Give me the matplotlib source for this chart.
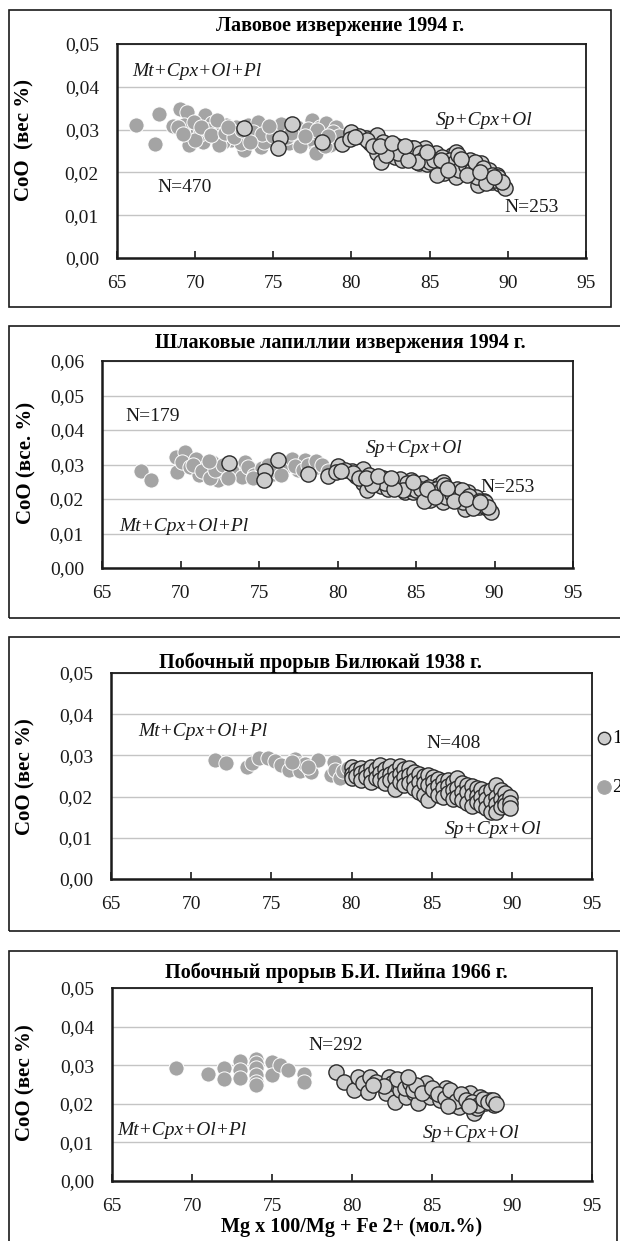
import matplotlib
matplotlib.use("Agg")
import matplotlib.pyplot as plt
from matplotlib.patches import Rectangle
from matplotlib.ticker import MultipleLocator, FuncFormatter

plt.rcParams['font.family'] = ['Liberation Serif', 'DejaVu Serif']

# ---------------- DATA ----------------
# Panel 1 & 2 shared: Sp+Cpx+Ol olivines, 1994 (N=253)
ol1994_x = [73.1, 76.2, 75.4, 75.3, 78.1,
            79.4, 80.0, 79.9, 80.9, 81.2, 81.6, 81.6, 81.9, 82.3, 82.6, 82.8, 83.1, 83.2,
            83.5, 83.9, 84.1, 84.3, 84.7, 84.8, 85.1, 85.4, 85.6, 85.9, 86.1, 86.4, 86.5,
            86.7, 86.7, 87.1, 87.5, 87.6, 87.9, 88.1, 88.3, 88.5, 88.8, 89.0, 89.3, 89.5, 89.8,
            80.5, 81.0, 81.4, 82.0, 82.4, 82.9, 83.3, 83.7, 84.0, 84.4, 84.6, 85.0, 85.3,
            85.8, 86.0, 86.3, 86.6, 86.9, 87.3, 87.7, 87.9, 88.0, 88.4, 88.7, 89.0, 89.2,
            89.4, 89.6, 85.5, 86.8, 87.4, 88.6, 84.2, 83.0, 82.2, 83.6,
            80.2, 81.8, 82.6, 83.4, 84.8, 85.7, 86.2, 87.0, 88.2, 89.1]
ol1994_y = [0.0303, 0.0312, 0.0280, 0.0256, 0.0272,
            0.0266, 0.0295, 0.0277, 0.0280, 0.0268, 0.0288, 0.0245, 0.0225, 0.0264, 0.0252, 0.0237, 0.0259, 0.0229,
            0.0248, 0.0256, 0.0237, 0.0221, 0.0256, 0.0220, 0.0237, 0.0245, 0.0213, 0.0198, 0.0229, 0.0241, 0.0209,
            0.0190, 0.0248, 0.0221, 0.0198, 0.0229, 0.0213, 0.0170, 0.0221, 0.0198, 0.0205, 0.0178, 0.0194, 0.0174, 0.0163,
            0.0285, 0.0275, 0.0262, 0.0270, 0.0248, 0.0262, 0.0250, 0.0240, 0.0258, 0.0245, 0.0232, 0.0225, 0.0230,
            0.0235, 0.0218, 0.0230, 0.0225, 0.0205, 0.0215, 0.0205, 0.0225, 0.0190, 0.0210, 0.0185, 0.0195, 0.0182,
            0.0190, 0.0178, 0.0195, 0.0240, 0.0195, 0.0175, 0.0225, 0.0245, 0.0240, 0.0228,
            0.0282, 0.0262, 0.0268, 0.0262, 0.0248, 0.0228, 0.0205, 0.0232, 0.0200, 0.0190]

# Panel 1: Mt+Cpx+Ol+Pl, lava 1994 (N=470)
lava_mt_x = [66.2, 67.4, 67.7, 68.6, 69.0, 69.5, 69.3, 69.6, 70.1, 70.6, 70.5, 71.1, 71.2, 71.6,
             72.0, 72.3, 72.6, 73.1, 73.2, 73.6, 74.1, 74.2, 74.6, 74.8, 75.1, 75.6, 76.2, 76.6,
             77.1, 77.5, 77.6, 77.7, 78.0, 78.4, 78.6, 79.0,
             68.9, 69.9, 70.3, 70.8, 71.4, 71.8, 72.2, 72.8, 73.4, 73.8, 74.4, 74.9, 75.3, 75.8,
             76.0, 76.4, 76.9, 77.3, 77.9, 78.2, 78.8, 79.2, 70.0, 71.5, 72.9, 74.0, 75.5, 76.7,
             78.3, 69.2,
             70.4, 71.0, 71.9, 72.5, 73.0, 73.7, 74.3, 75.0, 75.9, 76.5, 77.2, 77.8, 78.5, 72.1,
             73.5, 74.7, 76.1, 77.0]
lava_mt_y = [0.0311, 0.0266, 0.0336, 0.0309, 0.0348, 0.0342, 0.0310, 0.0264, 0.0295, 0.0334, 0.0272, 0.0315, 0.0284, 0.0299,
             0.0310, 0.0276, 0.0307, 0.0252, 0.0291, 0.0276, 0.0303, 0.0260, 0.0291, 0.0276, 0.0303, 0.0276, 0.0295, 0.0276,
             0.0291, 0.0323, 0.0268, 0.0245, 0.0307, 0.0315, 0.0264, 0.0307,
             0.0305, 0.0318, 0.0290, 0.0300, 0.0322, 0.0270, 0.0290, 0.0295, 0.0310, 0.0285, 0.0272, 0.0300, 0.0290, 0.0298,
             0.0268, 0.0285, 0.0300, 0.0278, 0.0290, 0.0275, 0.0295, 0.0285, 0.0275, 0.0265, 0.0268, 0.0318, 0.0312, 0.0262,
             0.0262, 0.0290,
             0.0305, 0.0288, 0.0292, 0.0282, 0.0300, 0.0295, 0.0290, 0.0285, 0.0282, 0.0305, 0.0302, 0.0300, 0.0285, 0.0305,
             0.0272, 0.0308, 0.0292, 0.0285]

# Panel 2: Mt+Cpx+Ol+Pl, lapilli 1994 (N=179)
lap_mt_x = [67.5, 68.1, 69.7, 69.8, 70.3, 70.1, 70.6, 71.0, 71.2, 71.6, 72.0, 72.4, 72.5, 72.9,
            73.6, 74.1, 74.4, 74.9, 75.9, 76.6, 77.1, 77.5, 77.9, 78.4, 78.7, 79.2,
            70.8, 71.4, 71.9, 72.2, 72.7, 73.3, 73.9, 74.3, 74.7, 75.2, 75.6, 76.1, 76.4, 77.3,
            77.8, 78.1, 78.6, 79.0, 79.4, 71.8, 73.0, 74.6]
lap_mt_y = [0.0281, 0.0256, 0.0322, 0.0278, 0.0336, 0.0307, 0.0293, 0.0317, 0.0269, 0.0293, 0.0307, 0.0254, 0.0293, 0.0273,
            0.0288, 0.0307, 0.0264, 0.0283, 0.0273, 0.0293, 0.0317, 0.0283, 0.0312, 0.0302, 0.0293, 0.0288,
            0.0300, 0.0280, 0.0262, 0.0285, 0.0300, 0.0280, 0.0265, 0.0292, 0.0270, 0.0290, 0.0300, 0.0280, 0.0270, 0.0295,
            0.0285, 0.0300, 0.0310, 0.0298, 0.0280, 0.0310, 0.0262, 0.0260]

# Panel 3: Bilyukai 1938
bil_mt_x = [71.5, 72.2, 73.5, 73.8, 74.2, 74.8, 75.2, 75.6, 76.1, 76.5, 76.7, 76.8, 77.1, 77.5,
            77.9, 78.7, 78.9, 79.0, 79.3, 79.5, 79.8, 76.3, 77.3]
bil_mt_y = [0.0290, 0.0282, 0.0271, 0.0282, 0.0294, 0.0294, 0.0286, 0.0276, 0.0265, 0.0291, 0.0278, 0.0261, 0.0280, 0.0259,
            0.0288, 0.0253, 0.0283, 0.0265, 0.0245, 0.0261, 0.0269, 0.0283, 0.0272]
bil_ol_x = [80.0, 80.0, 80.0, 80.3, 80.3, 80.6, 80.6, 80.6, 80.9, 80.9, 81.2, 81.2, 81.2, 81.5, 81.5,
            81.8, 81.8, 81.8, 82.1, 82.1, 82.1, 82.4, 82.4, 82.4, 82.7, 82.7, 82.7, 83.0, 83.0, 83.0,
            83.3, 83.3, 83.3, 83.6, 83.6, 83.6, 83.9, 83.9, 83.9, 84.2, 84.2, 84.2, 84.5, 84.5, 84.5,
            84.8, 84.8, 84.8, 85.1, 85.1, 85.1, 85.4, 85.4, 85.4, 85.7, 85.7, 85.7, 86.0, 86.0, 86.0,
            86.3, 86.3, 86.3, 86.6, 86.6, 86.6, 86.9, 86.9, 86.9, 87.2, 87.2, 87.2, 87.5, 87.5, 87.5,
            87.8, 87.8, 87.8, 88.1, 88.1, 88.1, 88.4, 88.4, 88.4, 88.7, 88.7, 88.7, 89.0, 89.0, 89.0, 89.0,
            89.3, 89.3, 89.3, 89.6, 89.6, 89.6, 89.9, 89.9, 89.9]
bil_ol_y = [0.0273, 0.0255, 0.0245, 0.0265, 0.0250, 0.0270, 0.0258, 0.0240, 0.0262, 0.0247, 0.0272, 0.0255, 0.0236, 0.0266, 0.0246,
            0.0277, 0.0258, 0.0240, 0.0268, 0.0250, 0.0232, 0.0274, 0.0256, 0.0240, 0.0262, 0.0244, 0.0218, 0.0275, 0.0255, 0.0235,
            0.0266, 0.0248, 0.0228, 0.0270, 0.0252, 0.0232, 0.0260, 0.0240, 0.0222, 0.0255, 0.0236, 0.0212, 0.0250, 0.0232, 0.0205,
            0.0252, 0.0228, 0.0192, 0.0248, 0.0235, 0.0215, 0.0242, 0.0225, 0.0205, 0.0238, 0.0220, 0.0200, 0.0240, 0.0225, 0.0208,
            0.0235, 0.0215, 0.0195, 0.0244, 0.0222, 0.0200, 0.0232, 0.0212, 0.0192, 0.0228, 0.0210, 0.0185, 0.0225, 0.0205, 0.0178,
            0.0220, 0.0202, 0.0186, 0.0218, 0.0198, 0.0180, 0.0212, 0.0195, 0.0172, 0.0215, 0.0190, 0.0162, 0.0228, 0.0200, 0.0182, 0.0163,
            0.0215, 0.0195, 0.0175, 0.0208, 0.0190, 0.0180, 0.0200, 0.0185, 0.0172]

# Panel 4: B.I. Piip 1966
piip_mt_x = [69.0, 71.0, 72.0, 72.0, 73.0, 73.0, 73.0, 74.0, 74.0, 74.0, 74.0, 74.0, 74.0,
             75.0, 75.0, 75.5, 76.0, 77.0, 77.0]
piip_mt_y = [0.0292, 0.0277, 0.0292, 0.0263, 0.0311, 0.0288, 0.0266, 0.0315, 0.0305, 0.0294, 0.0275, 0.0257, 0.0249,
             0.0309, 0.0275, 0.0301, 0.0288, 0.0277, 0.0257]
piip_ol_x = [79.0, 79.5, 80.1, 80.4, 80.7, 81.0, 81.1, 81.5, 82.1, 82.3, 82.5, 82.7, 83.0, 83.2, 83.4,
             83.7, 83.9, 84.1, 84.3, 84.6, 84.9, 85.2, 85.5, 85.9, 86.2, 86.4, 86.7, 86.9, 87.2, 87.4,
             87.6, 87.8, 88.0, 88.3, 88.6, 88.9,
             82.8, 83.3, 83.6, 83.8, 84.0, 83.5, 84.4, 85.0, 85.4, 85.8, 86.1, 86.5, 86.8, 87.1, 87.5,
             87.9, 88.2, 88.5, 88.8, 89.0, 87.3, 86.0, 82.0, 81.3]
piip_ol_y = [0.0283, 0.0256, 0.0236, 0.0270, 0.0253, 0.0231, 0.0270, 0.0257, 0.0227, 0.0270, 0.0253, 0.0205, 0.0236, 0.0262, 0.0218,
             0.0249, 0.0227, 0.0201, 0.0240, 0.0253, 0.0218, 0.0231, 0.0210, 0.0240, 0.0197, 0.0223, 0.0192, 0.0218, 0.0201, 0.0227,
             0.0175, 0.0188, 0.0218, 0.0201, 0.0210, 0.0197,
             0.0265, 0.0240, 0.0255, 0.0235, 0.0250, 0.0270, 0.0228, 0.0240, 0.0225, 0.0215, 0.0235, 0.0208, 0.0225, 0.0210, 0.0205,
             0.0198, 0.0212, 0.0205, 0.0210, 0.0200, 0.0195, 0.0195, 0.0245, 0.0250]

titles = ["Лавовое извержение 1994 г.",
          "Шлаковые лапиллии извержения 1994 г.",
          "Побочный прорыв Билюкай 1938 г.",
          "Побочный прорыв Б.И. Пийпа 1966 г."]
ylabels = ["CoO  (вес %)", "CoO (все. %)", "CoO (вес %)", "CoO (вес %)"]
xlabel = "Mg x 100/Mg + Fe 2+ (мол.%)"
ymax = [0.05, 0.06, 0.05, 0.05]
legend_labels = ["1", "2"]

# ---------------- LAYOUT ----------------
W, H = 620, 1241
fig = plt.figure(figsize=(W / 100, H / 100), dpi=100)

def fx(px):
    return px / W

def fy(py):
    return 1 - py / H

# axes boxes in pixels: left, right, top, bottom
boxes = [(117, 586, 44, 258), (102, 573, 361, 568), (111, 592, 673, 879), (112, 592, 988, 1181)]
frames = [(9, 611, 10, 307), (9, 630, 326, 618), (9, 630, 637, 931), (9, 617, 951, 1250)]
title_pos = [(340, 26), (340, 343), (320, 663), (336, 973)]
ylab_pos = [(-0.175, 0.55), (-0.14, 0.507), (-0.158, 0.495), (-0.16, 0.508)]

G1_FACE, G1_EDGE = '#cdcdcd', '#2b2b2b'
G2_FACE = '#a4a4a4'
MS = 120

for (x0, x1, y0, y1) in frames:
    fig.add_artist(Rectangle((fx(x0), fy(y1)), fx(x1) - fx(x0), fy(y0) - fy(y1),
                             transform=fig.transFigure, fill=False, edgecolor='#1a1a1a',
                             linewidth=1.2, clip_on=False))

axes = []
for i, (l, r, t, b) in enumerate(boxes):
    ax = fig.add_axes([fx(l), fy(b), fx(r) - fx(l), fy(t) - fy(b)])
    ax.set_xlim(65, 95)
    ax.set_ylim(0, ymax[i])
    ax.xaxis.set_major_locator(MultipleLocator(5))
    ax.yaxis.set_major_locator(MultipleLocator(0.01))
    ax.yaxis.set_major_formatter(FuncFormatter(lambda v, p: f"{v:.2f}".replace('.', ',')))
    ax.tick_params(axis='x', direction='in', length=5, width=1.2, labelsize=14, pad=12, colors='#1a1a1a')
    ax.tick_params(axis='y', length=0, labelsize=14, pad=13, colors='#1a1a1a')
    ax.grid(axis='y', color='#c4c4c4', linewidth=1.0)
    ax.set_axisbelow(True)
    for s in ax.spines.values():
        s.set_color('#1a1a1a')
        s.set_linewidth(1.3)
    ax.spines['left'].set_linewidth(1.8)
    ax.spines['bottom'].set_linewidth(1.8)
    ax.set_ylabel(ylabels[i], fontsize=15, fontweight='bold')
    ax.yaxis.set_label_coords(*ylab_pos[i])
    fig.text(fx(title_pos[i][0]), fy(title_pos[i][1]), titles[i], ha='center', va='center',
             fontsize=14.5, fontweight='bold')
    axes.append(ax)

def draw(ax, ol_x, ol_y, mt_x, mt_y):
    h2 = ax.scatter(mt_x, mt_y, s=MS, facecolor=G2_FACE, edgecolor='white', linewidth=0.7, zorder=3)
    h1 = ax.scatter(ol_x, ol_y, s=MS, facecolor=G1_FACE, edgecolor=G1_EDGE, linewidth=1.0, zorder=4)
    return h1, h2

txt = dict(fontsize=14, va='center', ha='left', color='#1a1a1a')
itx = dict(fontsize=14, va='center', ha='left', style='italic', color='#1a1a1a')

# Panel 1
ax = axes[0]
draw(ax, ol1994_x, ol1994_y, lava_mt_x, lava_mt_y)
ax.text(66.0, 0.0435, "Mt+Cpx+Ol+Pl", **itx)
ax.text(85.4, 0.0322, "Sp+Cpx+Ol", **itx)
ax.text(67.6, 0.0164, "N=470", **txt)
ax.text(89.8, 0.0119, "N=253", **txt)

# Panel 2
ax = axes[1]
draw(ax, ol1994_x, ol1994_y, lap_mt_x, lap_mt_y)
ax.text(66.5, 0.0438, "N=179", **txt)
ax.text(81.8, 0.0345, "Sp+Cpx+Ol", **itx)
ax.text(89.1, 0.0232, "N=253", **txt)
ax.text(66.1, 0.0119, "Mt+Cpx+Ol+Pl", **itx)

# Panel 3
ax = axes[2]
h1, h2 = draw(ax, bil_ol_x, bil_ol_y, bil_mt_x, bil_mt_y)
ax.text(66.7, 0.0359, "Mt+Cpx+Ol+Pl", **itx)
ax.text(84.7, 0.0328, "N=408", **txt)
ax.text(85.8, 0.0119, "Sp+Cpx+Ol", **itx)
leg = ax.legend([h1, h2], legend_labels, loc='upper left', bbox_to_anchor=(1.012, 0.725),
                frameon=False, fontsize=14, handlelength=0.6, handletextpad=0.15,
                borderpad=0, borderaxespad=0, labelspacing=1.6, scatterpoints=1)
leg.legend_handles[0].set_sizes([80])
leg.legend_handles[1].set_sizes([95])
leg.legend_handles[1].set_edgecolor(G2_FACE)

# Panel 4
ax = axes[3]
draw(ax, piip_ol_x, piip_ol_y, piip_mt_x, piip_mt_y)
ax.text(77.25, 0.0352, "N=292", **txt)
ax.text(65.3, 0.0132, "Mt+Cpx+Ol+Pl", **itx)
ax.text(84.4, 0.0124, "Sp+Cpx+Ol", **itx)
fig.text(fx(352), fy(1227), xlabel, ha='center', va='center', fontsize=14.5, fontweight='bold')

fig.savefig("out.png", dpi=100, facecolor='white')
